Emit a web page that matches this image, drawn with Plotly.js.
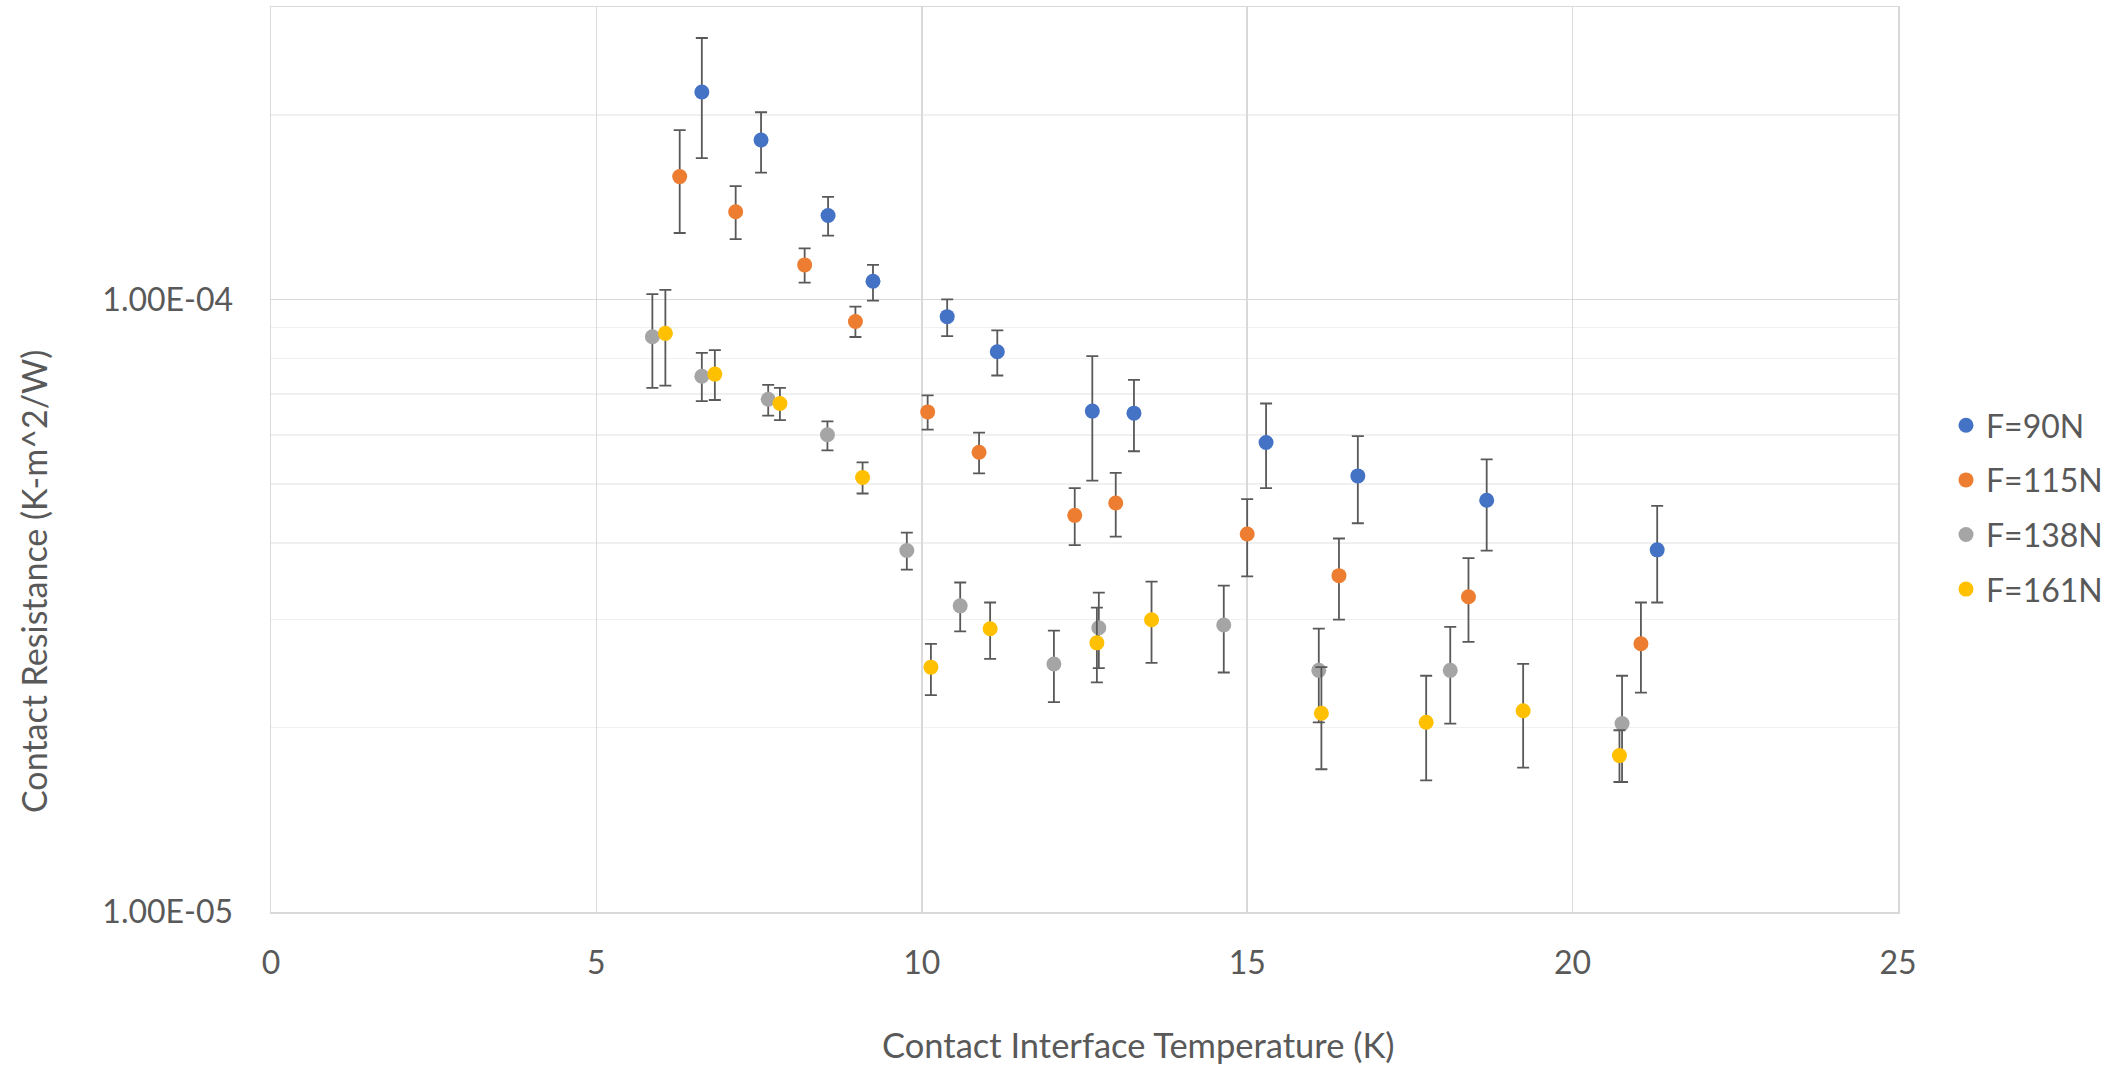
<!DOCTYPE html>
<html>
<head>
<meta charset="utf-8">
<script src="https://cdn.plot.ly/plotly-3.0.1.min.js"></script>
<style>html,body{margin:0;padding:0;background:#fff;}#chart{width:2124px;height:1065px;}</style>
</head>
<body>
<div id="chart"></div>
<script>
// ---- Data ----
const seriesNames = ["F=90N", "F=115N", "F=138N", "F=161N"];

const x90 = [6.62, 7.53, 8.56, 9.25, 10.39, 11.16, 12.62, 13.26, 15.29, 16.70, 18.68, 21.30];
const y90 = [2.18e-4, 1.82e-4, 1.37e-4, 1.07e-4, 9.37e-5, 8.21e-5, 6.57e-5, 6.52e-5, 5.84e-5, 5.15e-5, 4.70e-5, 3.90e-5];
const hi90 = [2.67e-4, 2.02e-4, 1.47e-4, 1.138e-4, 1.0e-4, 8.9e-5, 8.08e-5, 7.39e-5, 6.76e-5, 5.98e-5, 5.48e-5, 4.6e-5];
const lo90 = [1.70e-4, 1.61e-4, 1.27e-4, 0.995e-4, 8.71e-5, 7.51e-5, 5.06e-5, 5.65e-5, 4.92e-5, 4.31e-5, 3.89e-5, 3.2e-5];

const x115 = [6.28, 7.14, 8.20, 8.98, 10.09, 10.88, 12.35, 12.98, 15.00, 16.41, 18.40, 21.05];
const y115 = [1.586e-4, 1.39e-4, 1.138e-4, 9.2e-5, 6.55e-5, 5.63e-5, 4.44e-5, 4.65e-5, 4.14e-5, 3.54e-5, 3.27e-5, 2.74e-5];
const hi115 = [1.888e-4, 1.53e-4, 1.211e-4, 9.73e-5, 6.97e-5, 6.06e-5, 4.92e-5, 5.21e-5, 4.72e-5, 4.07e-5, 3.78e-5, 3.2e-5];
const lo115 = [1.283e-4, 1.254e-4, 1.065e-4, 8.68e-5, 6.13e-5, 5.2e-5, 3.97e-5, 4.1e-5, 3.53e-5, 3.0e-5, 2.76e-5, 2.28e-5];

const x138 = [5.86, 6.62, 7.64, 8.55, 9.77, 10.59, 12.03, 12.72, 14.64, 16.10, 18.12, 20.76];
const y138 = [8.69e-5, 7.49e-5, 6.87e-5, 6.01e-5, 3.89e-5, 3.16e-5, 2.54e-5, 2.91e-5, 2.94e-5, 2.48e-5, 2.48e-5, 2.03e-5];
const hi138 = [1.02e-4, 8.18e-5, 7.25e-5, 6.32e-5, 4.16e-5, 3.45e-5, 2.88e-5, 3.32e-5, 3.41e-5, 2.9e-5, 2.92e-5, 2.43e-5];
const lo138 = [7.17e-5, 6.82e-5, 6.46e-5, 5.67e-5, 3.62e-5, 2.87e-5, 2.2e-5, 2.5e-5, 2.46e-5, 2.04e-5, 2.03e-5, 1.63e-5];

const x161 = [6.06, 6.82, 7.82, 9.09, 10.14, 11.05, 12.69, 13.53, 16.14, 17.75, 19.24, 20.72];
const y161 = [8.8e-5, 7.55e-5, 6.76e-5, 5.12e-5, 2.51e-5, 2.90e-5, 2.75e-5, 3.0e-5, 2.11e-5, 2.04e-5, 2.13e-5, 1.80e-5];
const hi161 = [1.036e-4, 8.26e-5, 7.17e-5, 5.42e-5, 2.74e-5, 3.2e-5, 3.14e-5, 3.46e-5, 2.51e-5, 2.43e-5, 2.54e-5, 1.98e-5];
const lo161 = [7.23e-5, 6.85e-5, 6.35e-5, 4.82e-5, 2.26e-5, 2.59e-5, 2.37e-5, 2.55e-5, 1.71e-5, 1.64e-5, 1.72e-5, 1.63e-5];

const yTickVals = [1e-5, 1e-4];
const yTickText = ["1.00E-05", "1.00E-04"];

const xTitle = "Contact Interface Temperature (K)";
const yTitle = "Contact Resistance (K-m^2/W)";

const colors = ["#4472C4", "#ED7D31", "#A5A5A5", "#FFC000"];

// ---- Build traces ----
const FONT = "Lato, 'Open Sans', sans-serif";
const TXT = "#595959";

function mk(name, xs, ys, his, los, color, grp) {
  return {
    type: "scatter", mode: "markers", name: name,
    x: xs, y: ys, legendgroup: grp,
    marker: {color: color, size: 15, line: {width: 0}},
    error_y: {
      type: "data", symmetric: false,
      array: his.map((h, i) => h - ys[i]),
      arrayminus: los.map((l, i) => ys[i] - l),
      color: "#595959", thickness: 1.8, width: 6
    }
  };
}

const traces = [
  mk(seriesNames[0], x90, y90, hi90, lo90, colors[0], "g1"),
  mk(seriesNames[1], x115, y115, hi115, lo115, colors[1], "g2"),
  mk(seriesNames[2], x138, y138, hi138, lo138, colors[2], "g3"),
  mk(seriesNames[3], x161, y161, hi161, lo161, colors[3], "g4")
];

// minor grid positions on log axis (2..9 per decade)
const minorVals = [];
[1e-5, 1e-4].forEach(d => { for (let k = 2; k <= 9; k++) minorVals.push(k * d); });

const L = 271, R = 2124 - 1898, T = 7, B = 1065 - 912;
const PW = 2124 - L - R, PH = 1065 - T - B;

const layout = {
  width: 2124, height: 1065,
  margin: {l: L, r: R, t: T, b: B, pad: 0},
  paper_bgcolor: "#ffffff", plot_bgcolor: "#ffffff",
  font: {family: FONT, color: TXT, size: 32},
  showlegend: true,
  legend: {
    x: (1946 - L) / PW, xanchor: "left",
    y: (912 - 398) / PH, yanchor: "top",
    font: {family: FONT, color: TXT, size: 32},
    tracegroupgap: 10, itemwidth: 30,
    bgcolor: "rgba(0,0,0,0)"
  },
  xaxis: {
    range: [0, 25], tick0: 0, dtick: 5,
    showgrid: true, gridcolor: "#D9D9D9", gridwidth: 1.5,
    zeroline: false, showline: true, linecolor: "#D9D9D9", linewidth: 1.5, mirror: true,
    ticks: "", ticklabelstandoff: 22,
    tickfont: {family: FONT, color: TXT, size: 32}
  },
  yaxis: {
    type: "log", range: [-5, Math.log10(3e-4)],
    tickmode: "array", tickvals: yTickVals, ticktext: yTickText,
    showgrid: true, gridcolor: "#D9D9D9", gridwidth: 1.5,
    zeroline: false, showline: true, linecolor: "#D9D9D9", linewidth: 1.5, mirror: true,
    ticks: "", ticklabelstandoff: 30,
    tickfont: {family: FONT, color: TXT, size: 32},
    minor: {tickmode: "array", tickvals: minorVals, showgrid: true, gridcolor: "#F0F0F0", gridwidth: 1.5, ticks: ""}
  },
  annotations: [
    {text: xTitle, xref: "paper", yref: "paper",
     x: (1138 - L) / PW, y: (912 - 1044) / PH, xanchor: "center", yanchor: "middle",
     showarrow: false, font: {family: FONT, color: TXT, size: 34.5}},
    {text: yTitle, xref: "paper", yref: "paper", textangle: -90,
     x: (33 - L) / PW, y: (912 - 582) / PH, xanchor: "center", yanchor: "middle",
     showarrow: false, font: {family: FONT, color: TXT, size: 34}}
  ]
};

Plotly.newPlot("chart", traces, layout, {displayModeBar: false, staticPlot: true});
</script>
</body>
</html>
